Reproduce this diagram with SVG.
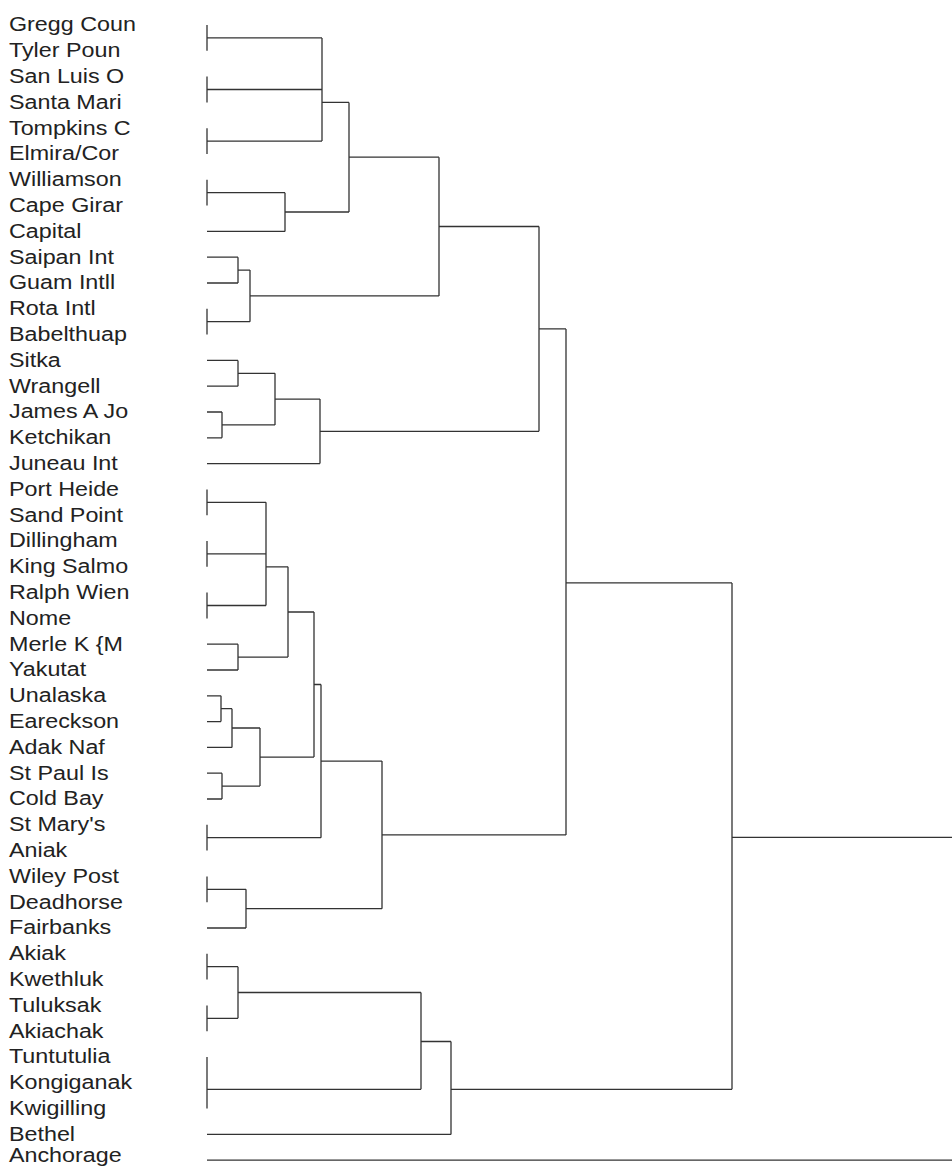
<svg xmlns="http://www.w3.org/2000/svg" width="952" height="1167" viewBox="0 0 952 1167">
<style>
.lbl{font-family:"Liberation Sans",Arial,sans-serif;font-size:21px;fill:#222}
.edge{fill:none;stroke:#333;stroke-width:1.3}
</style>
<rect width="952" height="1167" fill="#ffffff"/>
<g id="labels" transform="scale(1.11,1)">
<g id="n0"><text class="lbl" x="8.1" y="31.5">Gregg Coun</text></g>
<g id="n1"><text class="lbl" x="8.1" y="57.3">Tyler Poun</text></g>
<g id="n2"><text class="lbl" x="8.1" y="83.1">San Luis O</text></g>
<g id="n3"><text class="lbl" x="8.1" y="108.9">Santa Mari</text></g>
<g id="n4"><text class="lbl" x="8.1" y="134.7">Tompkins C</text></g>
<g id="n5"><text class="lbl" x="8.1" y="160.5">Elmira/Cor</text></g>
<g id="n6"><text class="lbl" x="8.1" y="186.3">Williamson</text></g>
<g id="n7"><text class="lbl" x="8.1" y="212.1">Cape Girar</text></g>
<g id="n8"><text class="lbl" x="8.1" y="237.9">Capital</text></g>
<g id="n9"><text class="lbl" x="8.1" y="263.7">Saipan Int</text></g>
<g id="n10"><text class="lbl" x="8.1" y="289.5">Guam Intll</text></g>
<g id="n11"><text class="lbl" x="8.1" y="315.3">Rota Intl</text></g>
<g id="n12"><text class="lbl" x="8.1" y="341.1">Babelthuap</text></g>
<g id="n13"><text class="lbl" x="8.1" y="366.9">Sitka</text></g>
<g id="n14"><text class="lbl" x="8.1" y="392.7">Wrangell</text></g>
<g id="n15"><text class="lbl" x="8.1" y="418.5">James A Jo</text></g>
<g id="n16"><text class="lbl" x="8.1" y="444.3">Ketchikan</text></g>
<g id="n17"><text class="lbl" x="8.1" y="470.1">Juneau Int</text></g>
<g id="n18"><text class="lbl" x="8.1" y="495.9">Port Heide</text></g>
<g id="n19"><text class="lbl" x="8.1" y="521.7">Sand Point</text></g>
<g id="n20"><text class="lbl" x="8.1" y="547.5">Dillingham</text></g>
<g id="n21"><text class="lbl" x="8.1" y="573.3">King Salmo</text></g>
<g id="n22"><text class="lbl" x="8.1" y="599.1">Ralph Wien</text></g>
<g id="n23"><text class="lbl" x="8.1" y="624.9">Nome</text></g>
<g id="n24"><text class="lbl" x="8.1" y="650.7">Merle K {M</text></g>
<g id="n25"><text class="lbl" x="8.1" y="676.5">Yakutat</text></g>
<g id="n26"><text class="lbl" x="8.1" y="702.3">Unalaska</text></g>
<g id="n27"><text class="lbl" x="8.1" y="728.1">Eareckson</text></g>
<g id="n28"><text class="lbl" x="8.1" y="753.9">Adak Naf</text></g>
<g id="n29"><text class="lbl" x="8.1" y="779.7">St Paul Is</text></g>
<g id="n30"><text class="lbl" x="8.1" y="805.5">Cold Bay</text></g>
<g id="n31"><text class="lbl" x="8.1" y="831.3">St Mary's</text></g>
<g id="n32"><text class="lbl" x="8.1" y="857.1">Aniak</text></g>
<g id="n33"><text class="lbl" x="8.1" y="882.9">Wiley Post</text></g>
<g id="n34"><text class="lbl" x="8.1" y="908.7">Deadhorse</text></g>
<g id="n35"><text class="lbl" x="8.1" y="934.5">Fairbanks</text></g>
<g id="n36"><text class="lbl" x="8.1" y="960.3">Akiak</text></g>
<g id="n37"><text class="lbl" x="8.1" y="986.1">Kwethluk</text></g>
<g id="n38"><text class="lbl" x="8.1" y="1011.9">Tuluksak</text></g>
<g id="n39"><text class="lbl" x="8.1" y="1037.7">Akiachak</text></g>
<g id="n40"><text class="lbl" x="8.1" y="1063.5">Tuntutulia</text></g>
<g id="n41"><text class="lbl" x="8.1" y="1089.3">Kongiganak</text></g>
<g id="n42"><text class="lbl" x="8.1" y="1115.1">Kwigilling</text></g>
<g id="n43"><text class="lbl" x="8.1" y="1140.9">Bethel</text></g>
<g id="n44"><text class="lbl" x="8.1" y="1162.2">Anchorage</text></g>
</g>
<g id="connectors">
<path class="edge" d="M207 25V50.8M207 37.9H322"/>
<path class="edge" d="M207 76.6V102.4M207 89.5H322"/>
<path class="edge" d="M207 128.2V154M207 141.1H322"/>
<path class="edge" d="M322 37.9V141.1M322 102.4H349"/>
<path class="edge" d="M207 179.8V205.6M207 192.7H285"/>
<path class="edge" d="M207 231.4H285M285 192.7V231.4M285 212H349"/>
<path class="edge" d="M349 102.4V212M349 157.2H439"/>
<path class="edge" d="M207 257.2H238M207 283H238M238 257.2V283M238 270.1H250"/>
<path class="edge" d="M207 308.8V334.6M207 321.7H250"/>
<path class="edge" d="M250 270.1V321.7M250 295.9H439"/>
<path class="edge" d="M439 157.2V295.9M439 226.5H539"/>
<path class="edge" d="M207 360.4H238M207 386.2H238M238 360.4V386.2M238 373.3H275"/>
<path class="edge" d="M207 412H222M207 437.8H222M222 412V437.8M222 424.9H275"/>
<path class="edge" d="M275 373.3V424.9M275 399.1H320"/>
<path class="edge" d="M207 463.6H320M320 399.1V463.6M320 431.3H539"/>
<path class="edge" d="M539 226.5V431.3M539 328.9H566"/>
<path class="edge" d="M207 489.4V515.2M207 502.3H266"/>
<path class="edge" d="M207 541V566.8M207 553.9H266"/>
<path class="edge" d="M207 592.6V618.4M207 605.5H266"/>
<path class="edge" d="M266 502.3V605.5M266 566.8H288"/>
<path class="edge" d="M207 644.2H238M207 670H238M238 644.2V670M238 657.1H288"/>
<path class="edge" d="M288 566.8V657.1M288 612H314"/>
<path class="edge" d="M207 695.8H221M207 721.6H221M221 695.8V721.6M221 708.7H232"/>
<path class="edge" d="M207 747.4H232M232 708.7V747.4M232 728H260"/>
<path class="edge" d="M207 773.2H222M207 799H222M222 773.2V799M222 786.1H260"/>
<path class="edge" d="M260 728V786.1M260 757.1H314"/>
<path class="edge" d="M314 612V757.1M314 684.5H321"/>
<path class="edge" d="M207 824.8V850.6M207 837.7H321"/>
<path class="edge" d="M321 684.5V837.7M321 761.1H382"/>
<path class="edge" d="M207 876.4V902.2M207 889.3H246"/>
<path class="edge" d="M207 928H246M246 889.3V928M246 908.7H382"/>
<path class="edge" d="M382 761.1V908.7M382 834.9H566"/>
<path class="edge" d="M566 328.9V834.9M566 582.9H732"/>
<path class="edge" d="M207 953.8V979.6M207 966.7H238"/>
<path class="edge" d="M207 1005.4V1031.2M207 1018.3H238"/>
<path class="edge" d="M238 966.7V1018.3M238 992.5H421"/>
<path class="edge" d="M207 1057V1108.6M207 1089.3H421"/>
<path class="edge" d="M421 992.5V1089.3M421 1041.5H451"/>
<path class="edge" d="M207 1134.4H451M451 1041.5V1134.4M451 1089.3H732"/>
<path class="edge" d="M732 582.9V1089.3M732 837.3H952"/>
<path class="edge" d="M207 1160.2H952"/>
</g>
</svg>
